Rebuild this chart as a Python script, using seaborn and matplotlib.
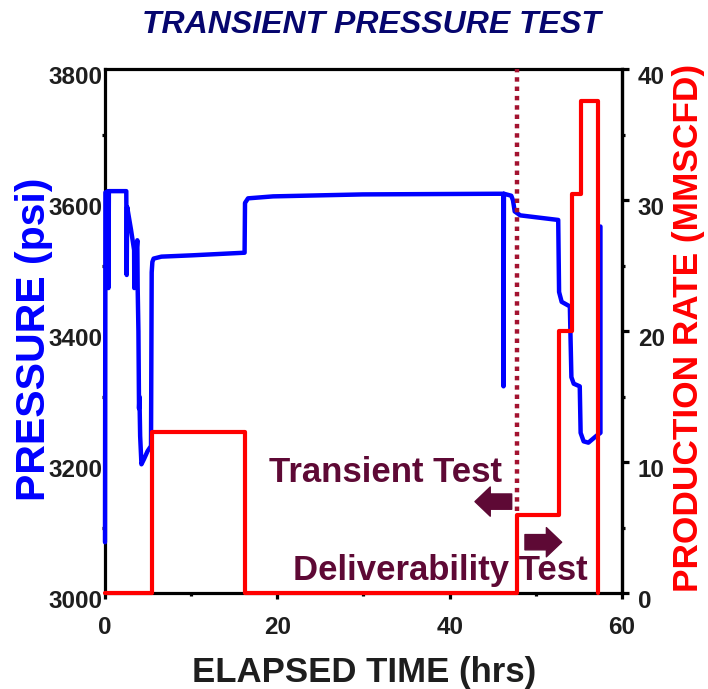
import matplotlib
matplotlib.use("Agg")
import matplotlib.pyplot as plt
import matplotlib.transforms as mtransforms
import seaborn as sns
import pandas as pd
from matplotlib.ticker import MultipleLocator

# ---- data -------------------------------------------------------------
# Bottom-hole pressure record (hrs, psi)
pressure_time = [0.0, 0.05, 0.35, 0.40, 0.45, 2.47, 2.52, 2.57, 3.02, 3.38, 3.40, 3.43,
                 3.58, 3.75, 3.79, 3.88, 3.95, 4.00, 4.08, 4.23, 4.53, 4.94, 5.34, 5.42,
                 5.50, 5.64, 6.55, 10.1, 16.20, 16.25, 16.6, 19.5, 29.9, 45.4, 46.25, 46.25,
                 46.3, 47.15, 47.35, 47.55, 48.2, 52.6, 52.7, 53.0, 53.95, 54.13, 54.4,
                 55.1, 55.2, 55.55, 56.1, 57.0, 57.5, 57.5]
pressure_psi = [3078, 3612, 3614, 3466, 3614, 3614, 3486, 3590, 3555, 3524, 3466, 3525,
                3510, 3539, 3468, 3400, 3282, 3300, 3240, 3197, 3205, 3217, 3225, 3490,
                3506, 3511, 3514, 3516, 3520, 3596, 3603, 3606, 3609, 3610, 3610, 3316,
                3610, 3607, 3600, 3583, 3577, 3570, 3460, 3445, 3438, 3330, 3320,
                3316, 3245, 3232, 3230, 3240, 3245, 3560]

# Gas production rate, step changes (hrs, MMSCFD)
rate_time = [0.0, 5.45, 16.25, 47.78, 52.69, 54.16, 55.2, 57.2]
rate_mmscfd = [0.0, 12.3, 0.0, 6.0, 20.0, 30.5, 37.6, 0.0]

divider_time = 47.85

# ---- style ------------------------------------------------------------
sns.set_theme(style="white")
plt.rcParams["font.family"] = ["Liberation Sans", "DejaVu Sans"]
plt.rcParams["font.weight"] = "bold"

TICK_COLOR = "#1e1e1e"
MAROON = "#5e0935"
TICK_SIZE = 17.5

fig = plt.figure(figsize=(7.08, 6.89), dpi=100)
ax = fig.add_axes([0.1483, 0.1389, 0.7302, 0.7605])
ax2 = ax.twinx()

press_df = pd.DataFrame({"time": pressure_time, "pressure": pressure_psi})
rate_df = pd.DataFrame({"time": rate_time, "rate": rate_mmscfd})

sns.lineplot(data=press_df, x="time", y="pressure", ax=ax, color="#0000ff",
             lw=3.2, estimator=None, sort=False, clip_on=False, zorder=3,
             solid_joinstyle="round", solid_capstyle="round")
sns.lineplot(data=rate_df, x="time", y="rate", ax=ax2, color="#ff0000",
             lw=3.0, estimator=None, sort=False, drawstyle="steps-post",
             clip_on=False, zorder=4)

# boundary between transient and deliverability tests
ax2.plot([divider_time, divider_time], [6.3, 40], color="#a3122f", lw=3.2,
         linestyle=(0, (1, 1.1)), zorder=2)

# ---- axes ---------------------------------------------------------------
ax.set_xlim(0, 60)
ax.set_ylim(3000, 3800)
ax2.set_ylim(0, 40)

ax.xaxis.set_major_locator(MultipleLocator(20))
ax.xaxis.set_minor_locator(MultipleLocator(10))
ax.yaxis.set_major_locator(MultipleLocator(200))
ax.yaxis.set_minor_locator(MultipleLocator(100))
ax2.yaxis.set_major_locator(MultipleLocator(10))
ax2.yaxis.set_minor_locator(MultipleLocator(5))

for a in (ax, ax2):
    for s in a.spines.values():
        s.set_linewidth(2.3)
        s.set_color("black")
for s in ("left", "bottom", "top"):
    ax2.spines[s].set_visible(False)

ax.tick_params(axis="x", which="major", direction="out", length=4, width=2.3,
               color="black", labelsize=TICK_SIZE, labelcolor=TICK_COLOR, pad=12,
               bottom=True)
ax.tick_params(axis="x", which="minor", direction="out", length=2.5, width=2.3,
               color="black", bottom=True)
ax.tick_params(axis="y", which="major", direction="out", length=0,
               labelsize=TICK_SIZE, labelcolor=TICK_COLOR, pad=1.5, left=True)
ax.tick_params(axis="y", which="minor", direction="out", length=2.5, width=2.3,
               color="black", left=True)
ax2.tick_params(axis="y", which="major", direction="out", length=5, width=2.3,
                color="black", labelsize=TICK_SIZE, labelcolor=TICK_COLOR, pad=6.5,
                right=True)
ax2.tick_params(axis="y", which="minor", direction="out", length=2.5, width=2.3,
                color="black", right=True)

ax.set_xlabel("ELAPSED TIME (hrs)", fontsize=25, fontweight="bold",
              color=TICK_COLOR, va="top")
ax.xaxis.set_label_coords(0.502, -0.119)
ax.set_ylabel("PRESSURE (psi)", fontsize=29.5, fontweight="bold",
              color="#0000ff", va="center")
ax.yaxis.set_label_coords(-0.137, 0.485)
ax2.set_ylabel("PRODUCTION RATE (MMSCFD)", fontsize=25.4, fontweight="bold",
               color="#ff0000", va="center", rotation=90)
ax2.yaxis.set_label_coords(1.128, 0.506)

fig.text(0.525, 0.964, "TRANSIENT PRESSURE TEST", ha="center", va="center",
         fontsize=23, fontweight="bold", style="italic", color="#06066e")

# ---- annotations ------------------------------------------------------
ax2.text(32.55, 8.5, "Transient Test", ha="center", va="baseline",
         fontsize=25, fontweight="bold", color=MAROON, zorder=1)
ax2.text(38.93, 1.0, "Deliverability Test", ha="center", va="baseline",
         fontsize=25, fontweight="bold", color=MAROON, zorder=1)

arrow_style = "simple,head_length=0.55,head_width=1.05,tail_width=0.55"
ax2.annotate("", xy=(42.94, 7.0), xytext=(47.2, 7.0),
             arrowprops=dict(arrowstyle=arrow_style, color=MAROON,
                             mutation_scale=20, shrinkA=0, shrinkB=0))
ax2.annotate("", xy=(53.0, 3.9), xytext=(48.74, 3.9),
             arrowprops=dict(arrowstyle=arrow_style, color=MAROON,
                             mutation_scale=20, shrinkA=0, shrinkB=0))

# y tick labels sit slightly below their tick positions
fig.canvas.draw()
drop = mtransforms.ScaledTranslation(0, -6 / 100, fig.dpi_scale_trans)
for tick in ax.yaxis.get_major_ticks() + ax2.yaxis.get_major_ticks():
    for lab in (tick.label1, tick.label2):
        lab.set_fontweight("bold")
        lab.set_transform(lab.get_transform() + drop)
for tick in ax.xaxis.get_major_ticks():
    tick.label1.set_fontweight("bold")

fig.savefig("out.png", dpi=100, facecolor="white")
